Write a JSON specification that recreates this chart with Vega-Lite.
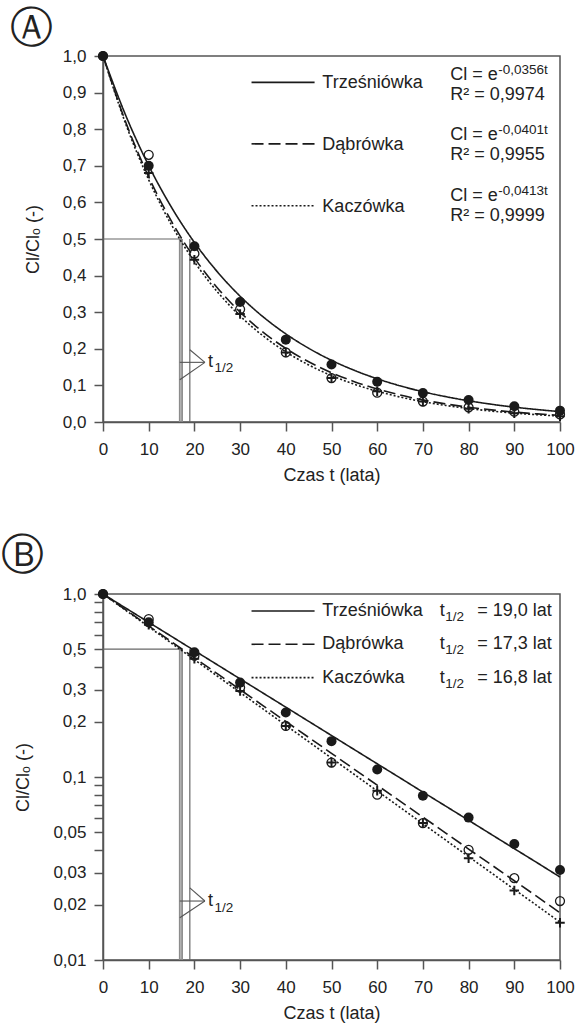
{
  "$schema": "https://vega.github.io/schema/vega-lite/v6.json",
  "padding": {"left": 0, "top": 7, "right": 5, "bottom": 5},
  "spacing": 49,
  "config": {
    "font": "Liberation Sans",
    "view": {"stroke": "#555", "strokeWidth": 1.5},
    "axis": {"domainColor": "#555", "domainWidth": 1.5, "tickColor": "#555", "tickWidth": 1.5, "tickSize": 9, "labelFontSize": 17, "labelColor": "#222", "titleFontSize": 18, "titleFontWeight": "normal", "titleColor": "#222", "grid": false, "labelOverlap": false},
    "axisX": {"titlePadding": 9, "labelPadding": 10, "labelFlush": false},
    "axisY": {"titlePadding": 20, "labelPadding": 8},
    "title": {"anchor": "start", "frame": "bounds", "fontSize": 43, "fontWeight": "normal", "font": "DejaVu Sans", "color": "#222", "dx": -14, "offset": -4},
    "text": {"font": "Liberation Sans", "color": "#222", "align": "left", "baseline": "middle"}
  },
  "datasets": {
    "obs": [
      {"t": 0, "v": 1.0, "series": "T"}, {"t": 10, "v": 0.70, "series": "T"}, {"t": 20, "v": 0.48, "series": "T"}, {"t": 30, "v": 0.328, "series": "T"}, {"t": 40, "v": 0.225, "series": "T"}, {"t": 50, "v": 0.157, "series": "T"}, {"t": 60, "v": 0.11, "series": "T"}, {"t": 70, "v": 0.079, "series": "T"}, {"t": 80, "v": 0.06, "series": "T"}, {"t": 90, "v": 0.043, "series": "T"}, {"t": 100, "v": 0.031, "series": "T"},
      {"t": 0, "v": 1.0, "series": "D"}, {"t": 10, "v": 0.73, "series": "D"}, {"t": 20, "v": 0.46, "series": "D"}, {"t": 30, "v": 0.308, "series": "D"}, {"t": 40, "v": 0.19, "series": "D"}, {"t": 50, "v": 0.12, "series": "D"}, {"t": 60, "v": 0.08, "series": "D"}, {"t": 70, "v": 0.056, "series": "D"}, {"t": 80, "v": 0.04, "series": "D"}, {"t": 90, "v": 0.028, "series": "D"}, {"t": 100, "v": 0.021, "series": "D"},
      {"t": 0, "v": 1.0, "series": "K"}, {"t": 10, "v": 0.68, "series": "K"}, {"t": 20, "v": 0.443, "series": "K"}, {"t": 30, "v": 0.295, "series": "K"}, {"t": 40, "v": 0.19, "series": "K"}, {"t": 50, "v": 0.12, "series": "K"}, {"t": 60, "v": 0.084, "series": "K"}, {"t": 70, "v": 0.056, "series": "K"}, {"t": 80, "v": 0.036, "series": "K"}, {"t": 90, "v": 0.024, "series": "K"}, {"t": 100, "v": 0.016, "series": "K"}
    ],
    "fit": [
      {"t": 0, "v": 1, "series": "T"}, {"t": 5, "v": 0.8369, "series": "T"}, {"t": 10, "v": 0.7005, "series": "T"}, {"t": 15, "v": 0.5863, "series": "T"}, {"t": 20, "v": 0.4907, "series": "T"}, {"t": 25, "v": 0.4107, "series": "T"}, {"t": 30, "v": 0.3437, "series": "T"}, {"t": 35, "v": 0.2877, "series": "T"}, {"t": 40, "v": 0.2408, "series": "T"}, {"t": 45, "v": 0.2015, "series": "T"}, {"t": 50, "v": 0.1686, "series": "T"}, {"t": 55, "v": 0.1411, "series": "T"}, {"t": 60, "v": 0.1181, "series": "T"}, {"t": 65, "v": 0.0989, "series": "T"}, {"t": 70, "v": 0.0827, "series": "T"}, {"t": 75, "v": 0.0693, "series": "T"}, {"t": 80, "v": 0.058, "series": "T"}, {"t": 85, "v": 0.0485, "series": "T"}, {"t": 90, "v": 0.0406, "series": "T"}, {"t": 95, "v": 0.034, "series": "T"}, {"t": 100, "v": 0.0284, "series": "T"},
      {"t": 0, "v": 1, "series": "D"}, {"t": 5, "v": 0.8183, "series": "D"}, {"t": 10, "v": 0.6697, "series": "D"}, {"t": 15, "v": 0.548, "series": "D"}, {"t": 20, "v": 0.4484, "series": "D"}, {"t": 25, "v": 0.367, "series": "D"}, {"t": 30, "v": 0.3003, "series": "D"}, {"t": 35, "v": 0.2457, "series": "D"}, {"t": 40, "v": 0.2011, "series": "D"}, {"t": 45, "v": 0.1646, "series": "D"}, {"t": 50, "v": 0.1347, "series": "D"}, {"t": 55, "v": 0.1102, "series": "D"}, {"t": 60, "v": 0.0902, "series": "D"}, {"t": 65, "v": 0.0738, "series": "D"}, {"t": 70, "v": 0.0604, "series": "D"}, {"t": 75, "v": 0.0494, "series": "D"}, {"t": 80, "v": 0.0404, "series": "D"}, {"t": 85, "v": 0.0331, "series": "D"}, {"t": 90, "v": 0.0271, "series": "D"}, {"t": 95, "v": 0.0222, "series": "D"}, {"t": 100, "v": 0.0181, "series": "D"},
      {"t": 0, "v": 1, "series": "K"}, {"t": 5, "v": 0.8134, "series": "K"}, {"t": 10, "v": 0.6617, "series": "K"}, {"t": 15, "v": 0.5382, "series": "K"}, {"t": 20, "v": 0.4378, "series": "K"}, {"t": 25, "v": 0.3561, "series": "K"}, {"t": 30, "v": 0.2897, "series": "K"}, {"t": 35, "v": 0.2356, "series": "K"}, {"t": 40, "v": 0.1917, "series": "K"}, {"t": 45, "v": 0.1559, "series": "K"}, {"t": 50, "v": 0.1268, "series": "K"}, {"t": 55, "v": 0.1032, "series": "K"}, {"t": 60, "v": 0.0839, "series": "K"}, {"t": 65, "v": 0.0683, "series": "K"}, {"t": 70, "v": 0.0555, "series": "K"}, {"t": 75, "v": 0.0452, "series": "K"}, {"t": 80, "v": 0.0367, "series": "K"}, {"t": 85, "v": 0.0299, "series": "K"}, {"t": 90, "v": 0.0243, "series": "K"}, {"t": 95, "v": 0.0198, "series": "K"}, {"t": 100, "v": 0.0161, "series": "K"}
    ]
  },
  "vconcat": [
    {
      "title": {"text": "Ⓐ"},
      "width": 457,
      "height": 366,
      "encoding": {
        "x": {"field": "t", "type": "quantitative", "title": "Czas t (lata)", "scale": {"domain": [0, 100], "nice": false}, "axis": {"values": [0, 10, 20, 30, 40, 50, 60, 70, 80, 90, 100]}},
        "y": {"field": "v", "type": "quantitative", "title": "Cl/Clₒ (-)", "scale": {"domain": [0, 1], "nice": false}, "axis": {"values": [0, 0.1, 0.2, 0.3, 0.4, 0.5, 0.6, 0.7, 0.8, 0.9, 1], "labelExpr": "replace(format(datum.value, '.1f'), '.', ',')"}}
      },
      "layer": [
        {"data": {"values": [{"t": 16.8, "t2": 16.8, "v": 0, "v2": 0.5}, {"t": 17.3, "t2": 17.3, "v": 0, "v2": 0.5}]}, "mark": {"type": "rule", "color": "#8c8c8c", "strokeWidth": 1.8}, "encoding": {"x2": {"field": "t2"}, "y2": {"field": "v2"}}},
        {"data": {"values": [{"t": 19.0, "t2": 19.0, "v": 0, "v2": 0.5}, {"t": 0, "t2": 17.3, "v": 0.5, "v2": 0.5}]}, "mark": {"type": "rule", "color": "#666", "strokeWidth": 1.2}, "encoding": {"x2": {"field": "t2"}, "y2": {"field": "v2"}}},
        {"data": {"values": [{"t": 16.8, "t2": 22.3, "v": 0.163, "v2": 0.163}, {"t": 19.0, "t2": 22.3, "v": 0.1975, "v2": 0.163}, {"t": 16.8, "t2": 22.3, "v": 0.1156, "v2": 0.163}]}, "mark": {"type": "rule", "color": "#555", "strokeWidth": 1.1}, "encoding": {"x2": {"field": "t2"}, "y2": {"field": "v2"}}},
        {"data": {"name": "fit"}, "mark": {"type": "line", "color": "#1a1a1a", "strokeWidth": 1.6, "interpolate": "monotone"}, "encoding": {"strokeDash": {"field": "series", "type": "nominal", "scale": {"domain": ["T", "D", "K"], "range": [[1, 0], [12, 5], [2, 2]]}, "legend": null}}},
        {"data": {"values": [{"t": 32.5, "t2": 46.3, "v": 0.928, "series": "T"}, {"t": 32.5, "t2": 46.3, "v": 0.76, "series": "D"}, {"t": 32.5, "t2": 46.3, "v": 0.591, "series": "K"}]}, "mark": {"type": "rule", "color": "#1a1a1a", "strokeWidth": 1.6}, "encoding": {"x2": {"field": "t2"}, "strokeDash": {"field": "series", "type": "nominal", "scale": {"domain": ["T", "D", "K"], "range": [[1, 0], [12, 5], [2, 2]]}, "legend": null}}},
        {"data": {"name": "obs"}, "transform": [{"filter": "datum.series === 'D'"}], "mark": {"type": "point", "shape": "circle", "filled": false, "color": "#1a1a1a", "strokeWidth": 1.3, "size": 80, "opacity": 1}},
        {"data": {"name": "obs"}, "transform": [{"filter": "datum.series === 'K'"}], "mark": {"type": "point", "shape": "M-1,0L1,0M0,-1L0,1", "filled": false, "color": "#1a1a1a", "strokeWidth": 2, "size": 90, "opacity": 1}},
        {"data": {"name": "obs"}, "transform": [{"filter": "datum.series === 'T'"}], "mark": {"type": "point", "shape": "circle", "filled": true, "color": "#1a1a1a", "size": 100, "opacity": 1}},
        {"data": {"values": [
          {"t": 48, "v": 0.925, "label": "Trześniówka"}, {"t": 48, "v": 0.756, "label": "Dąbrówka"}, {"t": 48, "v": 0.588, "label": "Kaczówka"},
          {"t": 76, "v": 0.949, "label": "Cl = e"}, {"t": 76, "v": 0.894, "label": "R² = 0,9974"},
          {"t": 76, "v": 0.785, "label": "Cl = e"}, {"t": 76, "v": 0.73, "label": "R² = 0,9955"},
          {"t": 76, "v": 0.617, "label": "Cl = e"}, {"t": 76, "v": 0.562, "label": "R² = 0,9999"},
          {"t": 23.0, "v": 0.163, "label": "t"}
        ]}, "mark": {"type": "text", "fontSize": 18}, "encoding": {"text": {"field": "label"}}},
        {"data": {"values": [
          {"t": 86.5, "v": 0.963, "label": "-0,0356t"}, {"t": 86.5, "v": 0.799, "label": "-0,0401t"}, {"t": 86.5, "v": 0.631, "label": "-0,0413t"},
          {"t": 24.4, "v": 0.147, "label": "1/2"}
        ]}, "mark": {"type": "text", "fontSize": 13.5}, "encoding": {"text": {"field": "label"}}}
      ]
    },
    {
      "title": {"text": "Ⓑ", "offset": 7},
      "width": 457,
      "height": 366,
      "encoding": {
        "x": {"field": "t", "type": "quantitative", "title": "Czas t (lata)", "scale": {"domain": [0, 100], "nice": false}, "axis": {"values": [0, 10, 20, 30, 40, 50, 60, 70, 80, 90, 100]}},
        "y": {"field": "v", "type": "quantitative", "title": "Cl/Clₒ (-)", "scale": {"type": "log", "domain": [0.01, 1], "nice": false}, "axis": {"values": [1, 0.9, 0.8, 0.7, 0.6, 0.5, 0.4, 0.3, 0.2, 0.1, 0.09, 0.08, 0.07, 0.06, 0.05, 0.04, 0.03, 0.02, 0.01], "labelExpr": "indexof([1, 0.5, 0.3, 0.2, 0.1, 0.05, 0.03, 0.02, 0.01], datum.value) >= 0 ? replace(format(datum.value, datum.value >= 0.1 ? '.1f' : '.2f'), '.', ',') : ''"}}
      },
      "layer": [
        {"data": {"values": [{"t": 16.8, "t2": 16.8, "v": 0.01, "v2": 0.5}, {"t": 17.3, "t2": 17.3, "v": 0.01, "v2": 0.5}]}, "mark": {"type": "rule", "color": "#8c8c8c", "strokeWidth": 1.8}, "encoding": {"x2": {"field": "t2"}, "y2": {"field": "v2"}}},
        {"data": {"values": [{"t": 19.0, "t2": 19.0, "v": 0.01, "v2": 0.5}, {"t": 0, "t2": 17.3, "v": 0.5, "v2": 0.5}]}, "mark": {"type": "rule", "color": "#666", "strokeWidth": 1.2}, "encoding": {"x2": {"field": "t2"}, "y2": {"field": "v2"}}},
        {"data": {"values": [{"t": 16.8, "t2": 22.3, "v": 0.021, "v2": 0.021}, {"t": 19.0, "t2": 22.3, "v": 0.0248, "v2": 0.021}, {"t": 16.8, "t2": 22.3, "v": 0.017, "v2": 0.021}]}, "mark": {"type": "rule", "color": "#555", "strokeWidth": 1.1}, "encoding": {"x2": {"field": "t2"}, "y2": {"field": "v2"}}},
        {"data": {"name": "fit"}, "mark": {"type": "line", "color": "#1a1a1a", "strokeWidth": 1.6}, "encoding": {"strokeDash": {"field": "series", "type": "nominal", "scale": {"domain": ["T", "D", "K"], "range": [[1, 0], [12, 5], [2, 2]]}, "legend": null}}},
        {"data": {"values": [{"t": 32.5, "t2": 46.3, "v": 0.807, "series": "T"}, {"t": 32.5, "t2": 46.3, "v": 0.531, "series": "D"}, {"t": 32.5, "t2": 46.3, "v": 0.349, "series": "K"}]}, "mark": {"type": "rule", "color": "#1a1a1a", "strokeWidth": 1.6}, "encoding": {"x2": {"field": "t2"}, "strokeDash": {"field": "series", "type": "nominal", "scale": {"domain": ["T", "D", "K"], "range": [[1, 0], [12, 5], [2, 2]]}, "legend": null}}},
        {"data": {"name": "obs"}, "transform": [{"filter": "datum.series === 'D'"}], "mark": {"type": "point", "shape": "circle", "filled": false, "color": "#1a1a1a", "strokeWidth": 1.3, "size": 80, "opacity": 1}},
        {"data": {"name": "obs"}, "transform": [{"filter": "datum.series === 'K'"}], "mark": {"type": "point", "shape": "M-1,0L1,0M0,-1L0,1", "filled": false, "color": "#1a1a1a", "strokeWidth": 2, "size": 90, "opacity": 1}},
        {"data": {"name": "obs"}, "transform": [{"filter": "datum.series === 'T'"}], "mark": {"type": "point", "shape": "circle", "filled": true, "color": "#1a1a1a", "size": 100, "opacity": 1}},
        {"data": {"values": [
          {"t": 48, "v": 0.805, "label": "Trześniówka"}, {"t": 48, "v": 0.53, "label": "Dąbrówka"}, {"t": 48, "v": 0.348, "label": "Kaczówka"},
          {"t": 73.7, "v": 0.807, "label": "t"}, {"t": 73.7, "v": 0.531, "label": "t"}, {"t": 73.7, "v": 0.349, "label": "t"},
          {"t": 81.9, "v": 0.807, "label": "= 19,0 lat"}, {"t": 81.9, "v": 0.531, "label": "= 17,3 lat"}, {"t": 81.9, "v": 0.349, "label": "= 16,8 lat"},
          {"t": 23.0, "v": 0.021, "label": "t"}
        ]}, "mark": {"type": "text", "fontSize": 18}, "encoding": {"text": {"field": "label"}}},
        {"data": {"values": [
          {"t": 74.9, "v": 0.748, "label": "1/2"}, {"t": 74.9, "v": 0.492, "label": "1/2"}, {"t": 74.9, "v": 0.323, "label": "1/2"},
          {"t": 24.4, "v": 0.0193, "label": "1/2"}
        ]}, "mark": {"type": "text", "fontSize": 13.5}, "encoding": {"text": {"field": "label"}}}
      ]
    }
  ]
}
